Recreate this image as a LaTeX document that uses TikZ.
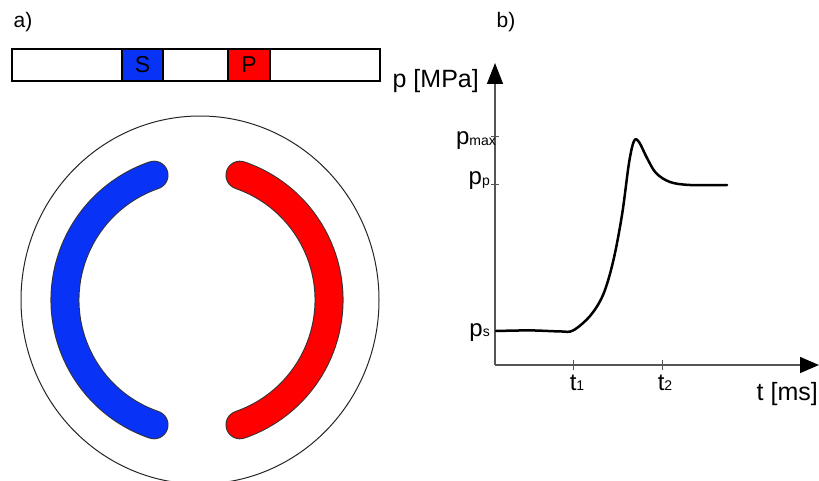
\documentclass[tikz,border=0pt]{standalone}
\usepackage{fontspec}
\setmainfont{Liberation Sans}
\usetikzlibrary{arrows.meta}
\definecolor{sblue}{RGB}{8,50,245}
\definecolor{pred}{RGB}{255,0,0}
\definecolor{axisgray}{RGB}{85,85,85}
\newcommand{\fs}[1]{\fontsize{#1}{#1}\selectfont}
\newcommand{\subtxt}[1]{{\fs{14}\raisebox{-0.5pt}{#1}}}
\begin{document}
\begin{tikzpicture}[x=1pt,y=-1pt,
  lbl/.style={inner sep=0pt, font=\fs{25}},
  sublbl/.style={inner sep=0pt, font=\fs{24}},
  portbox/.style={draw=black, line width=1.2pt, minimum height=32pt, minimum width=41pt, inner sep=0pt, font=\fs{23}},
  axisline/.style={draw=axisgray, line width=1.5pt},
  tickline/.style={draw=axisgray, line width=1pt},
  arcout/.style={line width=29pt, draw=black!80, line cap=round},
]
\useasboundingbox (0,0) rectangle (819,481);

% panel labels
\node[lbl, font=\fs{21}] (la) at (23,22) {a)};
\node[lbl, font=\fs{21}] (lb) at (506,22) {b)};

% plate bar
\node[draw=black, line width=2pt, minimum width=368pt, minimum height=32pt, inner sep=0pt] (bar) at (196,65) {};
\node[portbox, fill=sblue] (S) at (142.5,65) {S};
\node[portbox, fill=pred, minimum width=42pt] (P) at (249,65) {P};

% disc
\draw[line width=1pt, black!85] (200,300) ellipse[x radius=179, y radius=184];
% blue kidney (suction)
\draw[arcout] (197,300) ++(109:132) arc[start angle=109, end angle=251, radius=132];
\draw[line width=27pt, draw=sblue, line cap=round] (197,300) ++(109:132) arc[start angle=109, end angle=251, radius=132];
% red kidney (pressure)
\draw[arcout] (197,300) ++(-71:132) arc[start angle=-71, end angle=71, radius=132];
\draw[line width=27pt, draw=pred, line cap=round] (197,300) ++(-71:132) arc[start angle=-71, end angle=71, radius=132];

% axes
\coordinate (O) at (495,365);
\coordinate (ytip) at (495,63);
\coordinate (xtip) at (819,365);
\draw[axisline, -{Triangle[length=21pt, width=16pt, color=black]}] (O) -- (ytip);
\draw[axisline, -{Triangle[length=19pt, width=16pt, color=black]}] (O) -- (xtip);

\node[lbl, anchor=base east] (plab) at (479,88) {p [MPa]};
\node[lbl, anchor=base east] (tlab) at (818,400) {t [ms]};

% y ticks
\coordinate (pmaxt) at (495,137);
\coordinate (ppt) at (495,185);
\coordinate (pst) at (495,331);
\draw[tickline] ([xshift=-4pt]pmaxt) -- ([xshift=4pt]pmaxt);
\draw[tickline] ([xshift=-4pt]ppt) -- ([xshift=4pt]ppt);
\node[sublbl, anchor=base east] (pmax) at (496,145) {p\subtxt{max}};
\node[sublbl, anchor=base east] (pp) at (490,185) {p\subtxt{p}};
\node[sublbl, anchor=base east] (ps) at (490,336) {p\subtxt{s}};

% x ticks
\coordinate (t1t) at (573,365);
\coordinate (t2t) at (662,365);
\draw[tickline] ([yshift=-5pt]t1t) -- ([yshift=5pt]t1t);
\draw[tickline] ([yshift=-5pt]t2t) -- ([yshift=5pt]t2t);
\node[sublbl, anchor=base] (t1) at (577,390) {t\subtxt{1}};
\node[sublbl, anchor=base] (t2) at (665,390) {t\subtxt{2}};

% pressure curve
\draw[line width=2.5pt, line cap=round, line join=round] plot[smooth, tension=0.55] coordinates {
  (496,331) (530,330.4) (560,331.4) (573,330.5) (590,316) (603,295) (613,262) (622,215) (629,163) (634,141) (639,142) (647,158) (656,173) (670,182) (690,185) (727,185)};
\end{tikzpicture}
\end{document}
